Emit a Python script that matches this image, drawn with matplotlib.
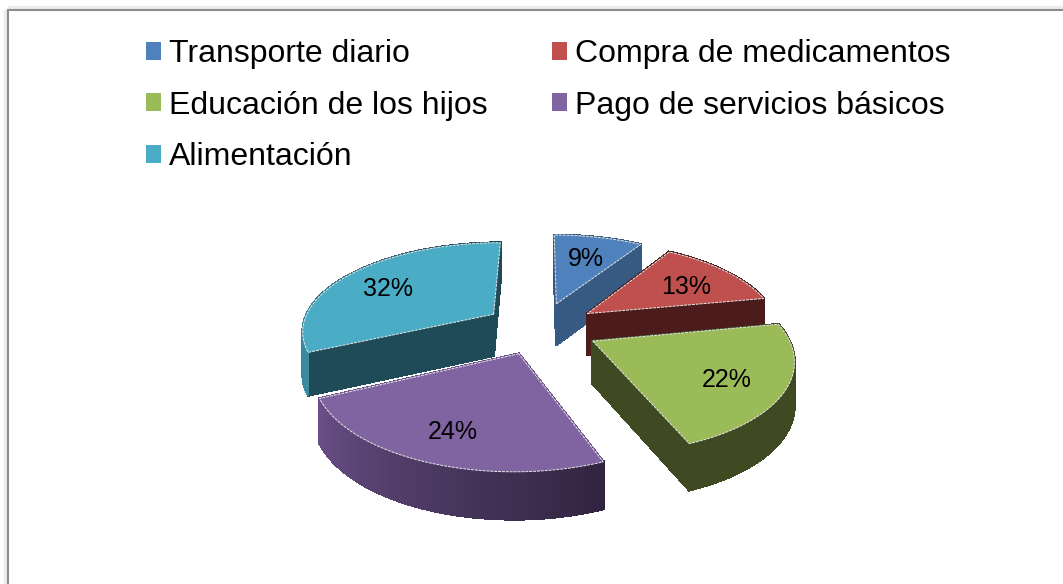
import matplotlib
matplotlib.use('Agg')
import matplotlib.pyplot as plt
import matplotlib.colors as mcolors
from matplotlib.patches import Patch, Polygon, Rectangle
import numpy as np

plt.rcParams['font.family'] = ['Liberation Sans', 'DejaVu Sans']

categories = ['Transporte diario', 'Compra de medicamentos', 'Educación de los hijos',
              'Pago de servicios básicos', 'Alimentación']
values = [9, 13, 22, 24, 32]
top_colors = ['#4f81bd', '#c0504d', '#9bbb59', '#8064a2', '#4bacc6']
side_colors = ['#375a83', '#4b1c1b', '#3f4a22', '#6a5088', '#1f4a58']
side_colors_end = ['#375a83', '#4b1c1b', '#3f4a22', '#30233f', '#3a8ba3']

CX, CY = 541, 328
RX, RY = 192, 88
K = 0.17
EXPLODE = 0.3
DEPTH = 42


def project(x, y):
    s = 1 / (1 + K * y)
    return CX + RX * x * s, CY - RY * y * s, s


def ring(t1, t2, ox, oy):
    # apex followed by the outer arc, in pie plane coordinates
    t = np.radians(np.linspace(t1, t2, 60))
    xs = np.concatenate([[ox], ox + np.cos(t)])
    ys = np.concatenate([[oy], oy + np.sin(t)])
    return xs, ys


def draw_slice(ax, t1, t2, top, side, side_end, z):
    mid = np.radians((t1 + t2) / 2)
    ox, oy = EXPLODE * np.cos(mid), EXPLODE * np.sin(mid)
    xs, ys = ring(t1, t2, ox, oy)
    px, py, s = project(xs, ys)
    low = py + DEPTH * np.sqrt(s)

    # side faces, far ones first
    n = len(px)
    faces = []
    c0 = np.array(mcolors.to_rgb(side))
    c1 = np.array(mcolors.to_rgb(side_end))
    for i in range(n):
        j = (i + 1) % n
        quad = [(px[i], py[i]), (px[j], py[j]), (px[j], low[j]), (px[i], low[i])]
        on_arc = i > 0 and j > 0
        col = c0 + (c1 - c0) * (i / (n - 1)) if on_arc else c0
        faces.append((ys[i] + ys[j], quad, col))
    faces.sort(key=lambda f: -f[0])
    for k, (_, quad, col) in enumerate(faces):
        ax.add_patch(Polygon(quad, closed=True, facecolor=col, edgecolor=col, lw=1.2,
                             antialiased=False, zorder=z + k * 0.001))

    ax.add_patch(Polygon(np.column_stack([px, py]), closed=True, facecolor=top,
                         edgecolor='#e8e8e8', lw=0.7, ls=(0, (3, 1)), zorder=z + 0.5))
    return project(ox + 0.72 * np.cos(mid), oy + 0.72 * np.sin(mid))


fig = plt.figure(figsize=(10.63, 5.84), dpi=100)
ax = fig.add_axes([0, 0, 1, 1])
ax.set_xlim(0, 1063)
ax.set_ylim(584, 0)
ax.axis('off')

# chart frame with its soft shadow
ax.add_patch(Rectangle((8, 10), 1100, 600, facecolor='none', edgecolor='#ececec', lw=6, zorder=0))
ax.add_patch(Rectangle((8, 10), 1100, 600, facecolor='white', edgecolor='#8c8c8c', lw=1.5, zorder=0.1))

ends = 90 - np.cumsum(values) * 3.6
starts = np.concatenate([[90], ends[:-1]])
draw_order = [4, 0, 1, 2, 3]
for z, i in enumerate(draw_order):
    lx, ly, _ = draw_slice(ax, ends[i], starts[i], top_colors[i], side_colors[i], side_colors_end[i], z + 1)
    ax.text(lx - 2, ly + 5, f'{values[i]}%', fontsize=18, ha='center', va='center', color='black', zorder=20)

handles = [Patch(facecolor=c, edgecolor='none') for c in top_colors]
order = [0, 2, 4, 1, 3]
ax.legend([handles[i] for i in order], [categories[i] for i in order], ncol=2, frameon=False,
          fontsize=23, loc='upper left', bbox_to_anchor=(146, 39), bbox_transform=ax.transData,
          borderpad=0, borderaxespad=0, handlelength=0.48, handleheight=0.48, handletextpad=0.25,
          labelspacing=0.68, columnspacing=2.0)

fig.savefig('out.png', dpi=100)
